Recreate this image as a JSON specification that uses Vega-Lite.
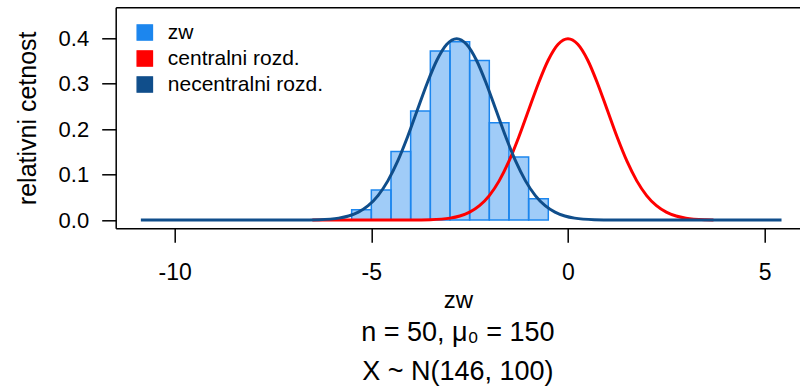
{
  "$schema": "https://vega.github.io/schema/vega-lite/v6.json",
  "autosize": {"type": "none"},
  "padding": {"left": 115.7, "top": 7.3, "right": 0, "bottom": 158.7},
  "width": 684.3,
  "height": 221,
  "config": {
    "view": {"stroke": null},
    "font": "Liberation Sans",
    "legend": {"symbolStrokeColor": "#222222", "symbolStrokeWidth": 1.2},
    "axis": {"grid": false, "domainColor": "black", "tickColor": "black", "labelColor": "black", "titleColor": "black", "domainWidth": 1.5, "tickWidth": 1.5, "labelFont": "Liberation Sans", "titleFont": "Liberation Sans", "titleFontWeight": "normal"}
  },
  "title": {
    "text": ["n = 50, μ₀ = 150", "X ~ N(146, 100)"],
    "orient": "bottom",
    "anchor": "middle",
    "fontSize": 27,
    "fontWeight": "normal",
    "font": "Liberation Sans",
    "color": "black",
    "lineHeight": 39,
    "offset": 8
  },
  "datasets": {
    "hist": [
      {"x0": -5.5, "x1": -5.0, "density": 0.023, "series": "zᴡ"},
      {"x0": -5.0, "x1": -4.5, "density": 0.066, "series": "zᴡ"},
      {"x0": -4.5, "x1": -4.0, "density": 0.151, "series": "zᴡ"},
      {"x0": -4.0, "x1": -3.5, "density": 0.240, "series": "zᴡ"},
      {"x0": -3.5, "x1": -3.0, "density": 0.372, "series": "zᴡ"},
      {"x0": -3.0, "x1": -2.5, "density": 0.392, "series": "zᴡ"},
      {"x0": -2.5, "x1": -2.0, "density": 0.351, "series": "zᴡ"},
      {"x0": -2.0, "x1": -1.5, "density": 0.214, "series": "zᴡ"},
      {"x0": -1.5, "x1": -1.0, "density": 0.139, "series": "zᴡ"},
      {"x0": -1.0, "x1": -0.5, "density": 0.047, "series": "zᴡ"}
    ],
    "curves": [
      {"x": -6.5, "y": 0, "series": "centralni rozd."},
      {"x": -4.5, "y": 0, "series": "centralni rozd."},
      {"x": -4.0, "y": 0.0001, "series": "centralni rozd."},
      {"x": -3.5, "y": 0.0009, "series": "centralni rozd."},
      {"x": -3.0, "y": 0.0044, "series": "centralni rozd."},
      {"x": -2.75, "y": 0.0091, "series": "centralni rozd."},
      {"x": -2.5, "y": 0.0175, "series": "centralni rozd."},
      {"x": -2.25, "y": 0.0317, "series": "centralni rozd."},
      {"x": -2.0, "y": 0.0540, "series": "centralni rozd."},
      {"x": -1.75, "y": 0.0863, "series": "centralni rozd."},
      {"x": -1.5, "y": 0.1295, "series": "centralni rozd."},
      {"x": -1.25, "y": 0.1826, "series": "centralni rozd."},
      {"x": -1.0, "y": 0.2420, "series": "centralni rozd."},
      {"x": -0.75, "y": 0.3011, "series": "centralni rozd."},
      {"x": -0.5, "y": 0.3521, "series": "centralni rozd."},
      {"x": -0.25, "y": 0.3867, "series": "centralni rozd."},
      {"x": 0.0, "y": 0.3989, "series": "centralni rozd."},
      {"x": 0.25, "y": 0.3867, "series": "centralni rozd."},
      {"x": 0.5, "y": 0.3521, "series": "centralni rozd."},
      {"x": 0.75, "y": 0.3011, "series": "centralni rozd."},
      {"x": 1.0, "y": 0.2420, "series": "centralni rozd."},
      {"x": 1.25, "y": 0.1826, "series": "centralni rozd."},
      {"x": 1.5, "y": 0.1295, "series": "centralni rozd."},
      {"x": 1.75, "y": 0.0863, "series": "centralni rozd."},
      {"x": 2.0, "y": 0.0540, "series": "centralni rozd."},
      {"x": 2.25, "y": 0.0317, "series": "centralni rozd."},
      {"x": 2.5, "y": 0.0175, "series": "centralni rozd."},
      {"x": 2.75, "y": 0.0091, "series": "centralni rozd."},
      {"x": 3.0, "y": 0.0044, "series": "centralni rozd."},
      {"x": 3.5, "y": 0.0009, "series": "centralni rozd."},
      {"x": 3.7, "y": 0.0004, "series": "centralni rozd."},
      {"x": -10.86, "y": 0, "series": "necentralni rozd."},
      {"x": -8.5, "y": 0, "series": "necentralni rozd."},
      {"x": -6.83, "y": 0.0001, "series": "necentralni rozd."},
      {"x": -6.33, "y": 0.0009, "series": "necentralni rozd."},
      {"x": -5.83, "y": 0.0044, "series": "necentralni rozd."},
      {"x": -5.58, "y": 0.0091, "series": "necentralni rozd."},
      {"x": -5.33, "y": 0.0175, "series": "necentralni rozd."},
      {"x": -5.08, "y": 0.0317, "series": "necentralni rozd."},
      {"x": -4.83, "y": 0.0540, "series": "necentralni rozd."},
      {"x": -4.58, "y": 0.0863, "series": "necentralni rozd."},
      {"x": -4.33, "y": 0.1295, "series": "necentralni rozd."},
      {"x": -4.08, "y": 0.1826, "series": "necentralni rozd."},
      {"x": -3.83, "y": 0.2420, "series": "necentralni rozd."},
      {"x": -3.58, "y": 0.3011, "series": "necentralni rozd."},
      {"x": -3.33, "y": 0.3521, "series": "necentralni rozd."},
      {"x": -3.08, "y": 0.3867, "series": "necentralni rozd."},
      {"x": -2.83, "y": 0.3989, "series": "necentralni rozd."},
      {"x": -2.58, "y": 0.3867, "series": "necentralni rozd."},
      {"x": -2.33, "y": 0.3521, "series": "necentralni rozd."},
      {"x": -2.08, "y": 0.3011, "series": "necentralni rozd."},
      {"x": -1.83, "y": 0.2420, "series": "necentralni rozd."},
      {"x": -1.58, "y": 0.1826, "series": "necentralni rozd."},
      {"x": -1.33, "y": 0.1295, "series": "necentralni rozd."},
      {"x": -1.08, "y": 0.0863, "series": "necentralni rozd."},
      {"x": -0.83, "y": 0.0540, "series": "necentralni rozd."},
      {"x": -0.58, "y": 0.0317, "series": "necentralni rozd."},
      {"x": -0.33, "y": 0.0175, "series": "necentralni rozd."},
      {"x": -0.08, "y": 0.0091, "series": "necentralni rozd."},
      {"x": 0.17, "y": 0.0044, "series": "necentralni rozd."},
      {"x": 0.67, "y": 0.0009, "series": "necentralni rozd."},
      {"x": 1.17, "y": 0.0001, "series": "necentralni rozd."},
      {"x": 2.5, "y": 0, "series": "necentralni rozd."},
      {"x": 5.43, "y": 0, "series": "necentralni rozd."}
    ]
  },
  "resolve": {"axis": {"x": "independent"}},
  "layer": [
    {
      "data": {"name": "hist"},
      "mark": {"type": "rect", "fillOpacity": 0.42, "stroke": "#1C86EE", "strokeWidth": 1.5},
      "encoding": {
        "x": {"field": "x0", "type": "quantitative", "scale": {"domain": [-11.5, 5.9], "nice": false, "zero": false},
              "axis": {"orient": "top", "labels": false, "ticks": false, "title": null, "domain": true}},
        "x2": {"field": "x1"},
        "y": {"field": "density", "type": "quantitative", "scale": {"domain": [-0.018, 0.468], "nice": false, "zero": false},
              "axis": {"values": [0, 0.1, 0.2, 0.3, 0.4], "format": ".1f", "tickSize": 14, "labelPadding": 13, "labelFontSize": 22, "title": "relativni cetnost", "titleFontSize": 25, "titlePadding": 18}},
        "y2": {"datum": 0},
        "color": {"field": "series", "type": "nominal",
          "scale": {"domain": ["zᴡ", "centralni rozd.", "necentralni rozd."], "range": ["#1C86EE", "#FF0000", "#104E8B"]},
          "legend": {
            "orient": "none", "legendX": 18.6, "legendY": 14.7, "title": null, "padding": 0,
            "symbolType": "square", "symbolSize": 240, "labelFontSize": 21, "labelFont": "Liberation Sans", "labelColor": "black",
            "symbolStrokeColor": "#222222", "symbolStrokeWidth": 1.2, "symbolOpacity": 1,
            "labelOffset": 12.5, "rowPadding": 4,
            "encode": {"symbols": {"enter": {"stroke": {"value": "#222222"}, "strokeWidth": {"value": 1.2}}, "update": {"fill": {"scale": "color", "field": "value"}, "stroke": {"value": "#222222"}, "strokeWidth": {"value": 1.2}, "opacity": {"value": 1}, "fillOpacity": {"value": 1}, "strokeOpacity": {"value": 1}}}}
          }}
      }
    },
    {
      "data": {"name": "curves"},
      "transform": [{"filter": "datum.series === 'centralni rozd.'"}],
      "mark": {"type": "line", "strokeWidth": 3, "interpolate": "monotone"},
      "encoding": {
        "x": {"field": "x", "type": "quantitative",
              "axis": {"orient": "bottom", "values": [-10, -5, 0, 5], "labelExpr": "'' + datum.value", "tickSize": 14, "labelPadding": 19, "labelFontSize": 23, "title": "zᴡ", "titleFontSize": 24, "titlePadding": 4}},
        "y": {"field": "y", "type": "quantitative"},
        "color": {"field": "series", "type": "nominal"}
      }
    },
    {
      "data": {"name": "curves"},
      "transform": [{"filter": "datum.series === 'necentralni rozd.'"}],
      "mark": {"type": "line", "strokeWidth": 3, "interpolate": "monotone"},
      "encoding": {
        "x": {"field": "x", "type": "quantitative", "axis": null},
        "y": {"field": "y", "type": "quantitative"},
        "color": {"field": "series", "type": "nominal"}
      }
    }
  ]
}
